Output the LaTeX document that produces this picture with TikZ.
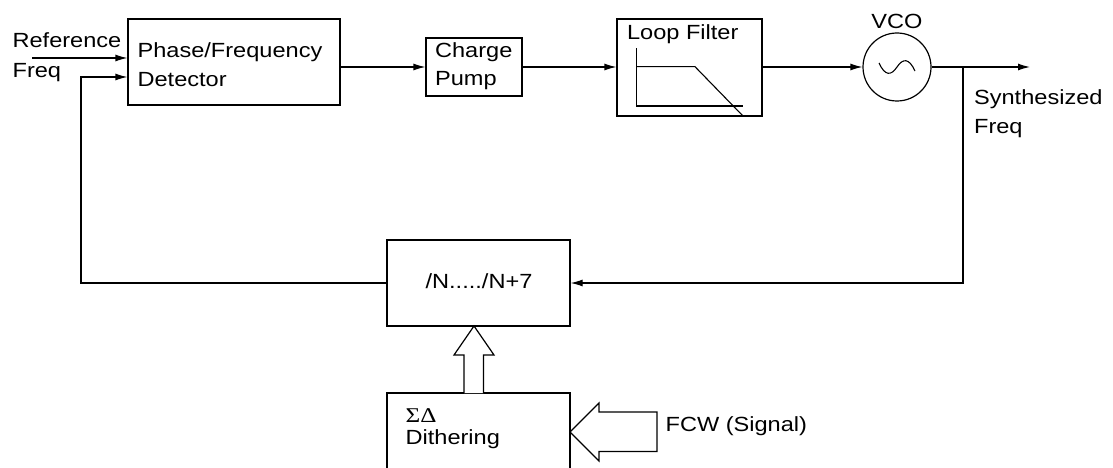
\documentclass[tikz,border=0pt]{standalone}
\usepackage{fontspec}
\setmainfont{Liberation Sans}[FakeStretch=1.15]
\newfontfamily\sdfont{Liberation Serif}[FakeStretch=1.2]
\usetikzlibrary{arrows.meta,calc}
\begin{document}
\begin{tikzpicture}[x=1pt,y=-1pt,
  line width=1.2pt,
  blk/.style={draw,rectangle,inner sep=0pt},
  txt/.style={anchor=base west,inner sep=0pt,font=\fontsize{20.5}{24}\selectfont},
  arr/.style={-{Latex[length=12pt,width=7pt]}},
  hollow/.style={draw,fill=white,line width=1.2pt,line join=miter}]
\clip (0,0) rectangle (1113,468);
\fill[white] (0,0) rectangle (1113,468);
% blocks
\node[blk,minimum width=212pt,minimum height=86pt] (pfd) at (234,62) {};
\node[blk,minimum width=96pt,minimum height=58pt] (cp) at (474,67) {};
\node[blk,minimum width=145pt,minimum height=97pt] (lf) at (689.5,67.5) {};
\node[draw,circle,minimum size=68pt,inner sep=0pt] (vco) at (897,67) {};
\node[blk,minimum width=183pt,minimum height=86pt] (div) at (478.5,283) {};
\node[blk,minimum width=183pt,minimum height=90pt] (sd) at (478.5,438) {};
% texts
\node[txt] (ref1) at (12,48) {Reference};
\node[txt] (ref2) at (12,77.5) {Freq};
\node[txt] (pfd1) at (137,57.7) {Phase/Frequency};
\node[txt] (pfd2) at (137,86.7) {Detector};
\node[txt] (cp1) at (434.5,58) {Charge};
\node[txt] (cp2) at (434.5,86) {Pump};
\node[txt] (lf1) at (626.5,40) {Loop Filter};
\node[anchor=base,inner sep=0pt,font=\fontsize{20.5}{24}\selectfont] (vcot) at (897,28.3) {VCO};
\node[txt] (syn1) at (973.5,105) {Synthesized};
\node[txt] (syn2) at (973.5,134) {Freq};
\node[anchor=base,inner sep=0pt,font=\fontsize{20.5}{24}\selectfont] (divt) at (479,288.3) {/N...../N+7};
\node[anchor=base west,inner sep=0pt,font=\sdfont\fontsize{21}{24}\selectfont] (sdt1) at (405,422.7) {ΣΔ};
\node[txt] (sdt2) at (405,444) {Dithering};
\node[txt] (fcw) at (665,431.7) {FCW (Signal)};
% coordinates
\coordinate (refin) at (32,58);
\coordinate (fbx) at (81,0);
\coordinate (tap) at (963,67);
\coordinate (out) at (1030,67);
% connectors
\draw[arr] (refin) -- (refin -| pfd.west);
\draw[arr] (div.west) -- (div.west -| fbx) |- ([yshift=-15pt]pfd.west);
\draw[arr] (pfd.east |- cp.west) -- (cp.west);
\draw[arr] (cp.east) -- (cp.east -| lf.west);
\draw[arr] (lf.east |- vco.west) -- (vco.west);
\draw[arr] (vco.east) -- (out);
\draw[arr] (tap) |- (div.east);
% loop filter response
\draw[line width=1.1pt] (636.7,48.3) -- (636.7,106) -- (743.3,106);
\draw[line width=1.1pt] (636.7,66.7) -- (695,66.7) -- (743,116);
% VCO sine
\draw[line width=1.1pt] (879,63) .. controls (885,76) and (891,76) .. (897,67)
  .. controls (903,58) and (909,58) .. (915,71);
% hollow arrows
\draw[hollow] (464,393) -- (464,355) -- (454,355) -- (474,326) -- (494,355) -- (483.5,355) -- (483.5,393);
\draw[hollow] (657,412) -- (599,412) -- (599,403) -- (570,432) -- (599,461) -- (599,451.5) -- (657,451.5) -- cycle;
\end{tikzpicture}
\end{document}
